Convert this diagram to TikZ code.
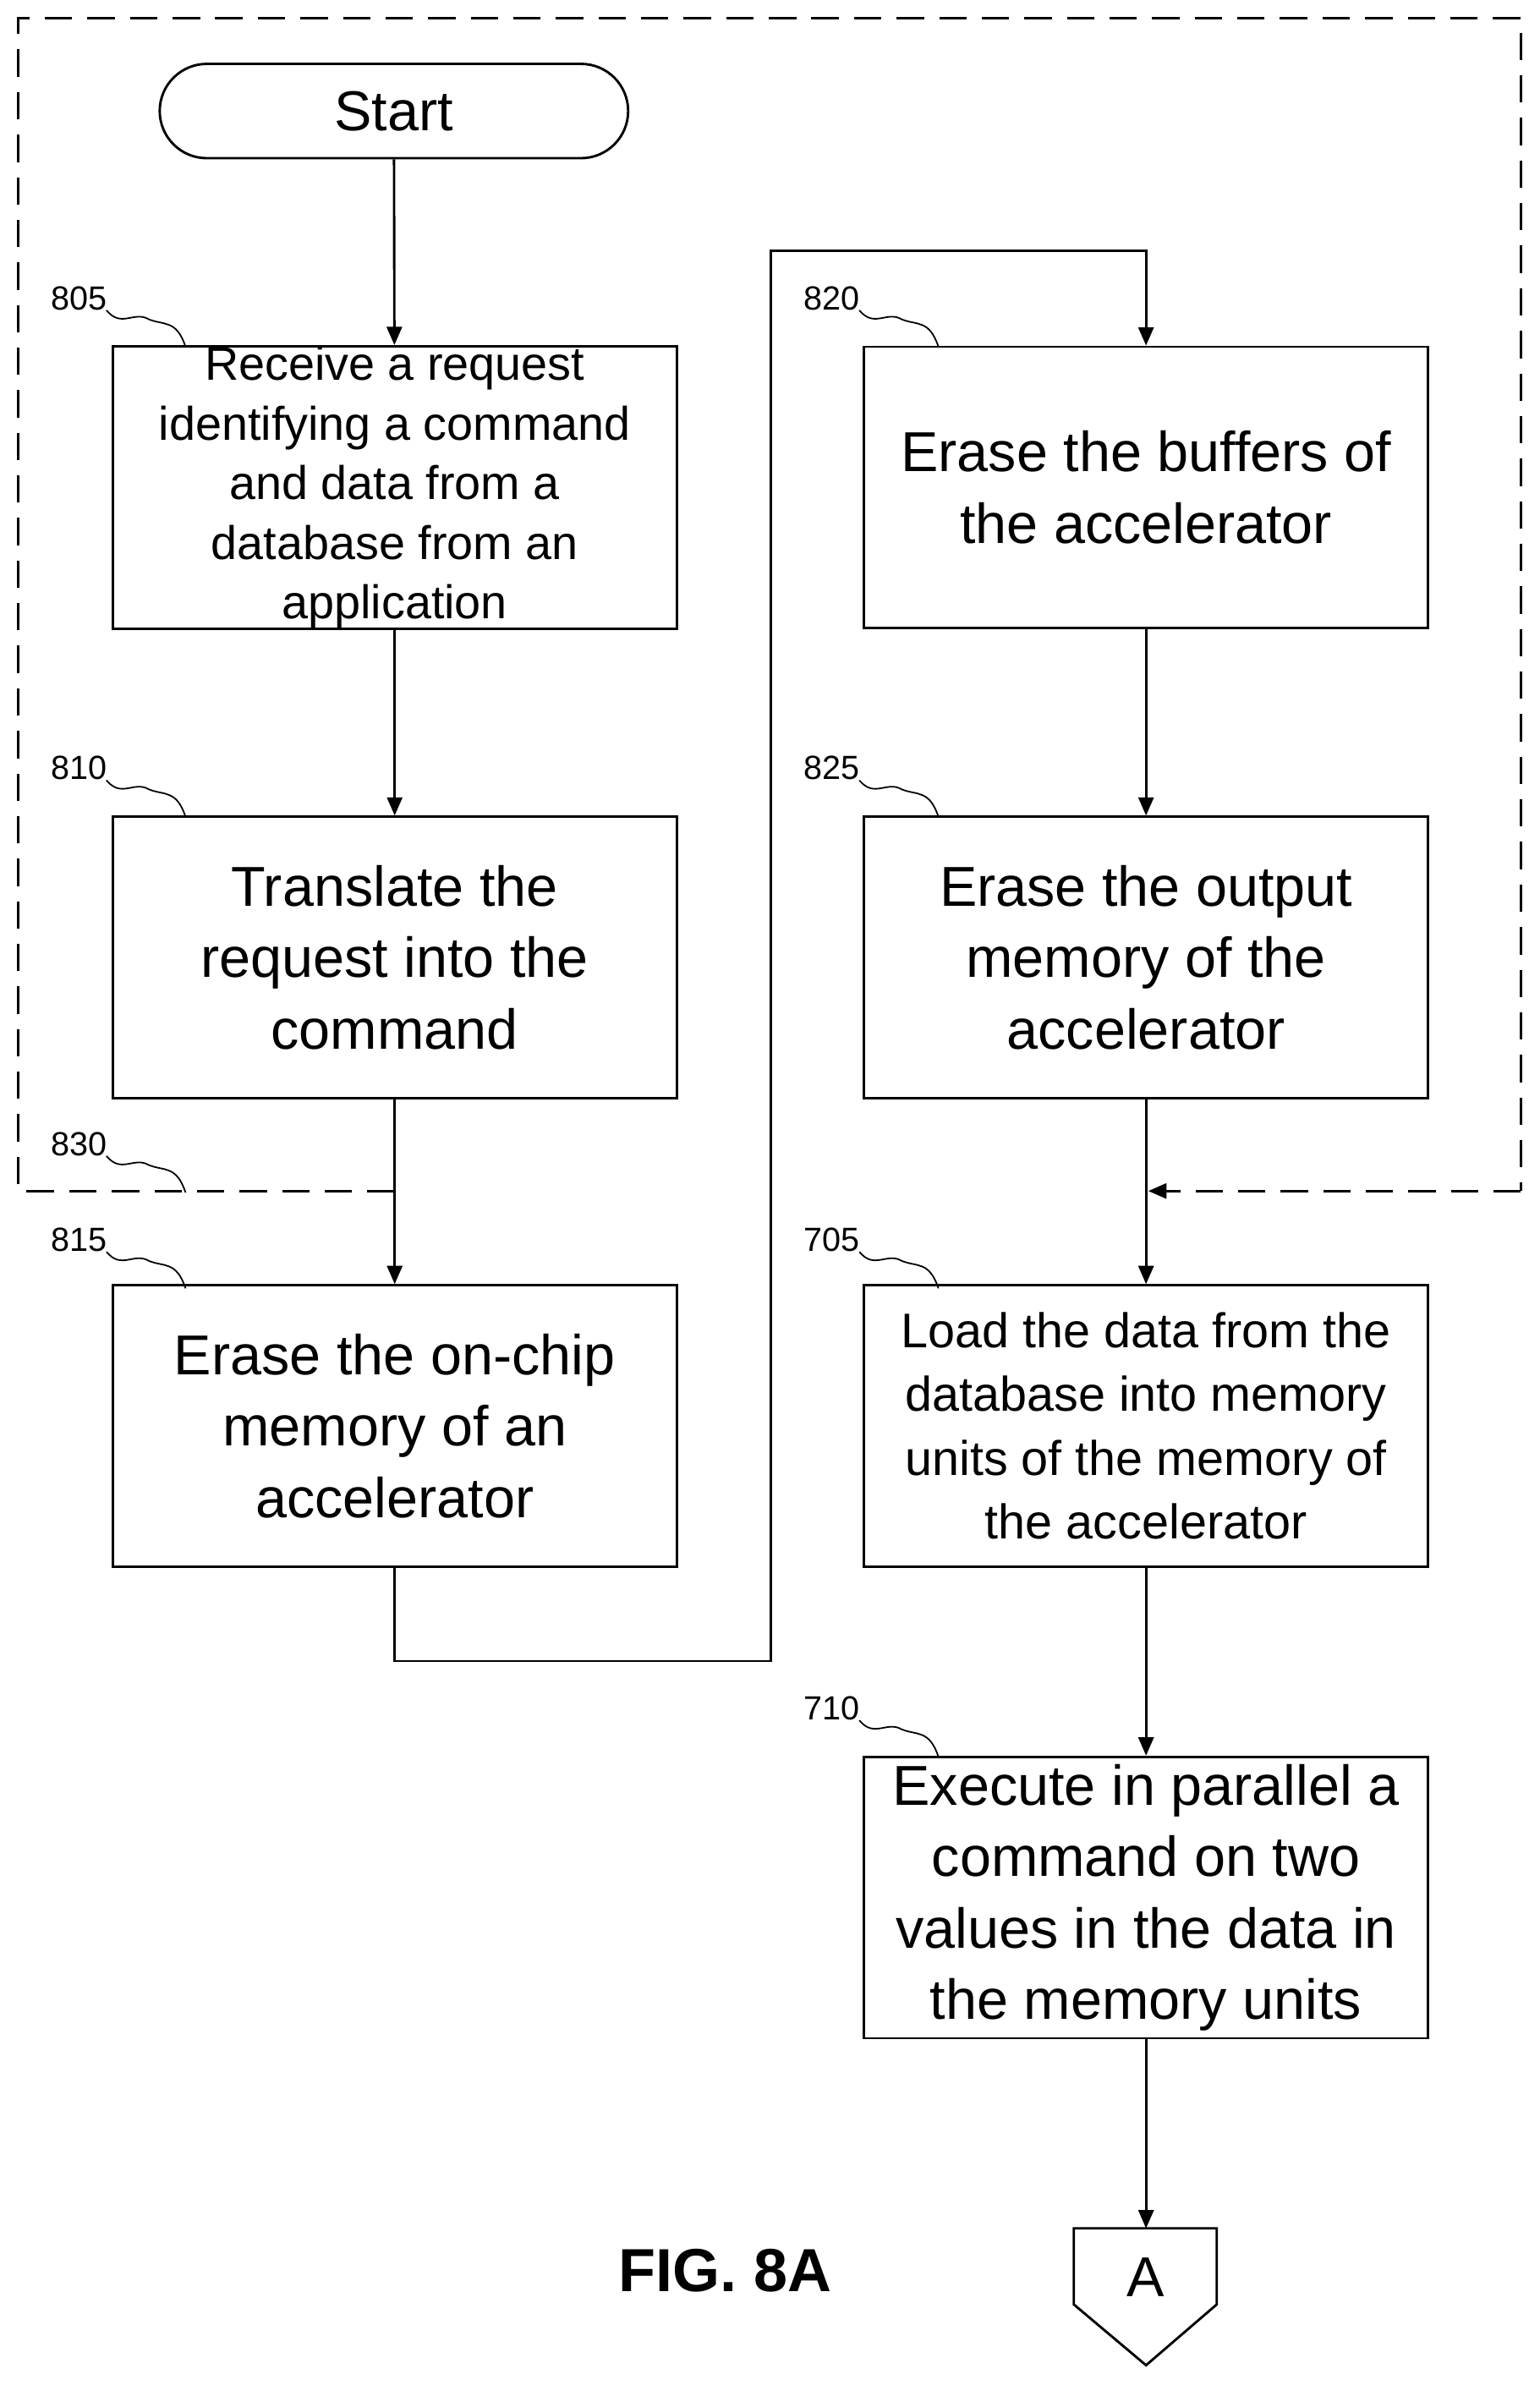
\documentclass[tikz,border=0pt]{standalone}
\usepackage{fontspec}
\setmainfont{Liberation Sans}
\usetikzlibrary{arrows.meta}
\begin{document}
\begin{tikzpicture}[x=0.5pt,y=-0.5pt,
 box/.style={draw,line width=0.8pt,minimum width=185.5pt,minimum height=92.5pt,align=center,inner sep=0pt},
 big/.style={font=\fontsize{18.5}{23.5}\selectfont},
 small/.style={font=\fontsize{15.5}{19.6}\selectfont},
 lbl/.style={font=\fontsize{11}{13}\selectfont,anchor=center},
 arr/.style={line width=0.8pt,-{Triangle[length=6pt,width=5pt]}},
 ln/.style={line width=0.8pt},
 sq/.style={line width=0.5pt}]
\useasboundingbox (0,0) rectangle (1012.5,1568);
\node[draw,line width=0.8pt,rounded corners=15.5pt,minimum width=154pt,minimum height=31pt,font=\fontsize{18.5}{22}\selectfont] (start) at (259,73) {Start};
\node[box,small] (b805) at (259.5,320.5) {Receive a request\\identifying a command\\and data from a\\database from an\\application};
\node[box,big] (b810) at (259.5,629.5) {Translate the\\request into the\\command};
\node[box,big] (b815) at (259.5,937.5) {Erase the on-chip\\memory of an\\accelerator};
\node[box,big] (b820) at (753.5,320.5) {Erase the buffers of\\the accelerator};
\node[box,big] (b825) at (753.5,629.5) {Erase the output\\memory of the\\accelerator};
\node[box,font=\fontsize{16}{21}\selectfont] (b705) at (753.5,937.5) {Load the data from the\\database into memory\\units of the memory of\\the accelerator};
\node[box,big] (b710) at (753.5,1247.5) {Execute in parallel a\\command on two\\values in the data in\\the memory units};
\coordinate (A) at (753.5,1465);
\draw[line width=0.8pt] (706,1465) -- (800,1465) -- (800,1515) -- (753.5,1555) -- (706,1515) -- cycle;
\node[font=\fontsize{18.5}{22}\selectfont] (Alab) at (753.5,1497) {A};
\node[font=\bfseries\fontsize{20}{24}\selectfont] (fig) at (477,1493) {FIG. 8A};
\draw[arr] (start) -- (b805);
\draw[arr] (b805) -- (b810);
\draw[arr] (b810) -- (b815);
\draw[arr] (b820) -- (b825);
\draw[arr] (b825) -- (b705);
\draw[arr] (b705) -- (b710);
\draw[arr] (b710) -- (A);
\coordinate (c1) at (259.5,1092);
\coordinate (c2) at (507,1092);
\coordinate (c3) at (507,165);
\coordinate (c4) at (753.5,165);
\draw[arr] (b815.south) -- (c1) -- (c2) -- (c3) -- (c4) -- (b820.north);
\coordinate (d1) at (259.5,783);
\coordinate (d2) at (755,783);
\draw[ln,dash pattern=on 9pt off 5pt] (d1) -- (12,783) -- (12,12) -- (1000,12) -- (1000,783);
\draw[line width=0.8pt,dash pattern=on 9pt off 5pt,-{Triangle[length=6pt,width=5pt]}] (1000,783) -- (d2);
\foreach \t/\x/\y in {805/52/196,810/52/505,830/52/752,815/52/815,820/547/196,825/547/505,705/547/815,710/547/1123}{
 \node[lbl] (l\t) at (\x,\y) {\t};
 \draw[sq] (\x+18,\y+8) .. controls (\x+28,\y+20) and (\x+36,\y+8) .. (\x+46,\y+14) .. controls (\x+56,\y+18) and (\x+64,\y+14) .. (\x+70,\y+32);
}
\end{tikzpicture}
\end{document}
